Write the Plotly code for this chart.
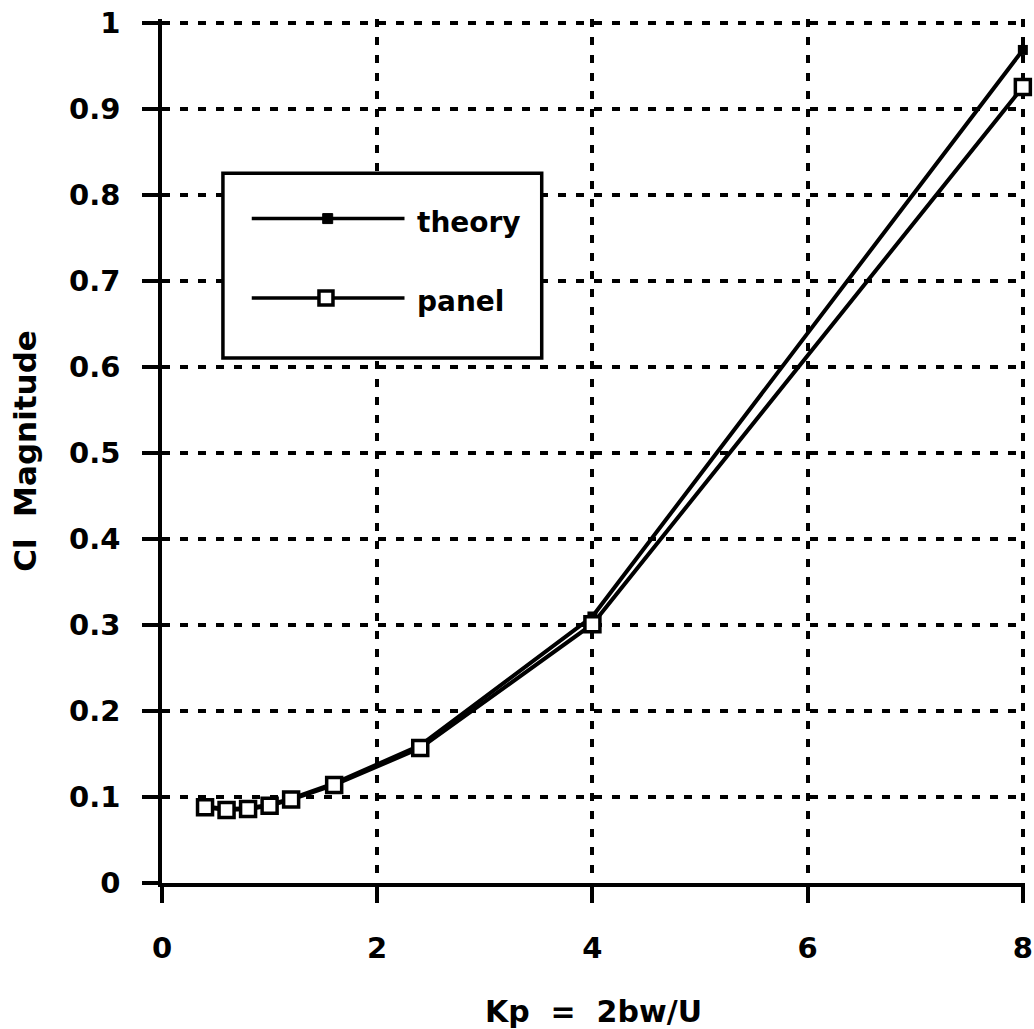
import plotly.graph_objects as go

# ---- data ----
kp = [0.4, 0.6, 0.8, 1.0, 1.2, 1.6, 2.4, 4.0, 8.0]
theory = [0.089, 0.086, 0.087, 0.091, 0.098, 0.116, 0.160, 0.310, 0.969]
panel = [0.088, 0.085, 0.086, 0.090, 0.097, 0.114, 0.157, 0.301, 0.926]

x_ticks = [0, 2, 4, 6, 8]
y_ticks = [0, 0.1, 0.2, 0.3, 0.4, 0.5, 0.6, 0.7, 0.8, 0.9, 1]
y_tick_text = ["0", "0.1", "0.2", "0.3", "0.4", "0.5", "0.6", "0.7", "0.8", "0.9", "1"]

series_names = ["theory", "panel"]
x_title = "Kp  =  2bw/U"
y_title = "Cl  Magnitude"

FONT = "DejaVu Sans"
fig = go.Figure()

fig.add_trace(go.Scatter(
    x=kp, y=theory, name=series_names[0], mode="lines+markers",
    line=dict(color="black", width=4),
    marker=dict(symbol="square", size=10, color="black"),
    cliponaxis=False, showlegend=False,
))
fig.add_trace(go.Scatter(
    x=kp, y=panel, name=series_names[1], mode="lines+markers",
    line=dict(color="black", width=4),
    marker=dict(symbol="square", size=15, color="white",
                line=dict(color="black", width=3.5)),
    cliponaxis=False, showlegend=False,
))

axis_common = dict(
    showline=True, linecolor="black", linewidth=3.5,
    showgrid=True, gridcolor="black", gridwidth=4, griddash="8px,10px",
    ticks="outside", ticklen=16, tickwidth=3.5, tickcolor="black",
    zeroline=False, automargin=False,
    tickfont=dict(family=FONT, size=29, color="black", weight="bold"),
)

fig.update_xaxes(
    range=[0, 8.02], tickvals=x_ticks, ticktext=[str(v) for v in x_ticks],
    ticklabelstandoff=20,
    title=dict(text=x_title, font=dict(family=FONT, size=30, color="black", weight="bold"),
               standoff=38),
    **axis_common,
)
fig.update_yaxes(
    range=[0, 1.005], tickvals=y_ticks, ticktext=y_tick_text,
    ticklabelstandoff=16,
    title=dict(text=y_title, font=dict(family=FONT, size=31, color="black", weight="bold"),
               standoff=24),
    **axis_common,
)

# ---- legend drawn as a box with sample lines ----
lx0, lx1 = 0.0706, 0.440
ly0, ly1 = 0.6075, 0.8215
fig.add_shape(type="rect", xref="paper", yref="paper", x0=lx0, x1=lx1, y0=ly0, y1=ly1,
              line=dict(color="black", width=3.5), fillcolor="white", layer="above")
rows = [(0.769, "theory"), (0.677, "panel")]
for i, (yy, label) in enumerate(rows):
    fig.add_shape(type="line", xref="paper", yref="paper", x0=0.104, x1=0.281, y0=yy, y1=yy,
                  line=dict(color="black", width=3.5), layer="above")
    if i == 0:
        fig.add_shape(type="rect", xref="paper", yref="paper", xsizemode="pixel", ysizemode="pixel",
                      xanchor=0.192, yanchor=yy, x0=-5, x1=5, y0=-5, y1=5,
                      line=dict(color="black", width=1), fillcolor="black", layer="above")
    else:
        fig.add_shape(type="rect", xref="paper", yref="paper", xsizemode="pixel", ysizemode="pixel",
                      xanchor=0.190, yanchor=yy, x0=-7, x1=7, y0=-7, y1=7,
                      line=dict(color="black", width=3.5), fillcolor="white", layer="above")
    fig.add_annotation(xref="paper", yref="paper", x=0.293, y=yy - 0.004, text=label,
                       showarrow=False, xanchor="left", yanchor="middle",
                       font=dict(family=FONT, size=28, color="black", weight="bold"))

fig.update_layout(
    width=1034, height=1029,
    margin=dict(l=162, r=9, t=19, b=146),
    plot_bgcolor="white", paper_bgcolor="white",
    showlegend=False,
)

fig.write_html("out.html")
